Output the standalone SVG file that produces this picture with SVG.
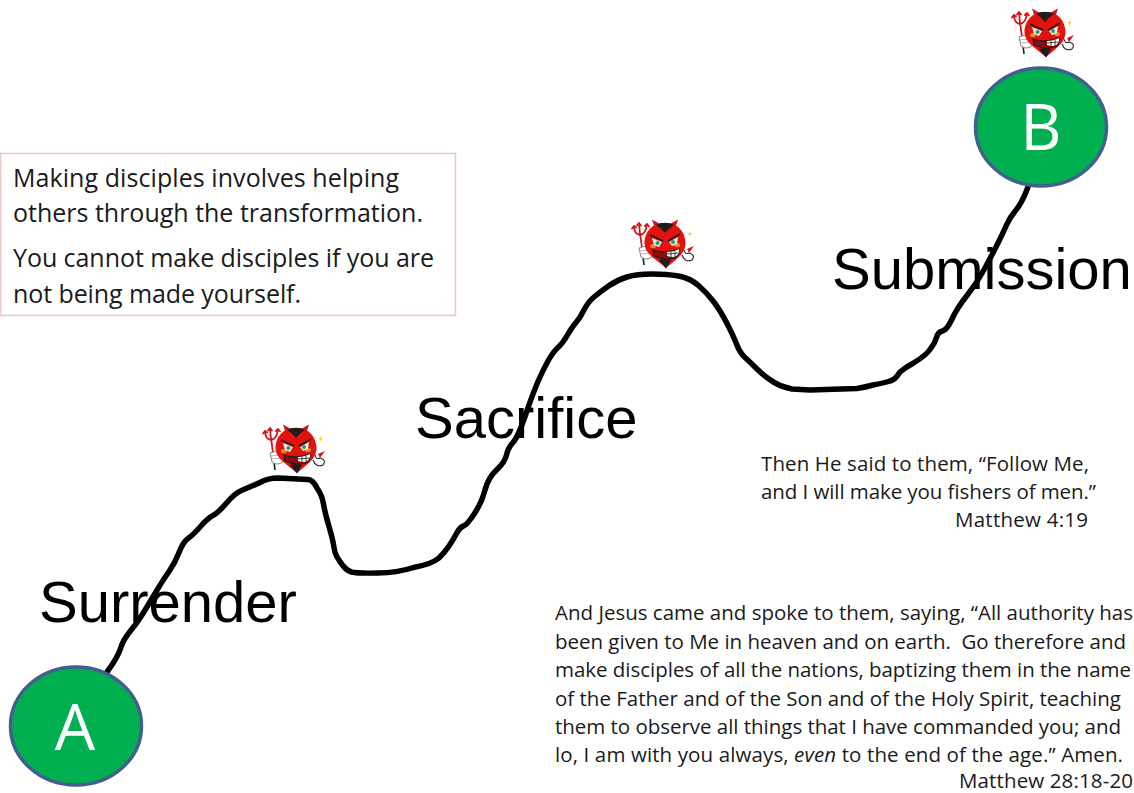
<svg xmlns="http://www.w3.org/2000/svg" width="1134" height="793" viewBox="0 0 1134 793">
<style>
.body{font-family:"Open Sans","Noto Sans",sans-serif;font-size:20.5px;fill:#1a1a1a}
.note{font-family:"Open Sans","Noto Sans",sans-serif;font-size:25px;fill:#1a1a1a}
.stage{font-family:"Liberation Sans",Arial,sans-serif;font-size:58px;fill:#000}
.letter{font-family:"Open Sans","Noto Sans",sans-serif;font-size:64px;fill:#fff;text-anchor:middle}
.stop{fill:#00b050;stroke:#41608f;stroke-width:3.500}
.trail{fill:none;stroke:#000;stroke-width:5.500;stroke-linecap:round;stroke-linejoin:round}
</style>
<defs>
<g id="devil">
<path d="M-22,14 L-21,22" stroke="#222" stroke-width="1.600" fill="none"/>
<path d="M-23,5 L-25,-10 M-31,-17 Q-31,-9 -25,-8 Q-19,-9 -18,-19 M-25,-8 L-26,-20 M-31,-17 l-2,2.500 M-31,-17 l2,1.500 M-26,-20 l-2,2.500 M-26,-20 l2,2.500 M-18,-19 l-2,2 M-18,-19 l2,2.500" stroke="#d3141c" stroke-width="1.800" fill="none" stroke-linecap="round"/>
<path d="M-26,5 Q-20,2 -15,4 L-13,14 Q-19,18 -24,14 Z" fill="#fff" stroke="#777" stroke-width=".9"/>
<path d="M-26,8 L-15,7 M-25,11 L-14,10" stroke="#999" stroke-width=".7"/>
<path d="M-10,-14 L-13,-23.500 L-3,-18 Z M10,-14 L13,-23.500 L3,-18 Z" fill="#d3141c"/>
<path d="M17,12 Q20,20 27,17 Q31,12 24,10 Q20,12 19,7" fill="none" stroke="#222" stroke-width="1.100"/>
<path d="M24,10 L29,3 L22,6 Z" fill="#d3141c"/>
<path d="M0,-20 C12,-21 20.500,-11 20.500,0 C20.500,10 13,15 1,25 C-11,15 -20.500,10 -20.500,0 C-20.500,-11 -12,-21 0,-20 Z" fill="#e3120f"/>
<path d="M-9,-18 Q0,-22.500 9,-18 Q4,-15 0,-10 Q-4,-15 -9,-18 Z M-6,17 Q0,15 6,17 L1,25.500 Z" fill="#1d1d1d"/>
<ellipse cx="-12" cy="3" rx="3" ry="2" fill="#f28a1e"/><ellipse cx="12" cy="2" rx="3" ry="2" fill="#f28a1e"/>
<path d="M-13,-5 L-3,-1 L-6,4 L-11,2 Z M13,-6 L4,-1 L7,3 L12,1 Z" fill="#dff0e2"/>
<circle cx="-7.500" cy="0" r="2" fill="#2e9a6a"/><circle cx="8" cy="-1" r="2" fill="#2e9a6a"/>
<path d="M-15,-8 L-2,-2 M15,-9 L3,-2" stroke="#1d1d1d" stroke-width="1.800"/>
<path d="M-12,7 Q-2,11 14,6 Q15,12 10,15 Q0,18 -11,13 Z" fill="#8c0b0b" stroke="#1d1d1d" stroke-width="1.200"/>
<path d="M2,9 Q9,9 14,6 Q15,12 9,14 Q5,14 2,13 Z" fill="#fff"/>
<path d="M6,9 L6,14 M10,8 L10,14 M2,11 L14,10" stroke="#1d1d1d" stroke-width=".8"/>
<path d="M24,-10 l.7,-2.500 l.7,2.500 l2,.7 l-2,.7 l-.7,2.500 l-.7,-2.500 l-2,-.7 Z M20,-7 l1,2 l-2,0 Z" fill="#f5d53a"/>
</g>
</defs>
<g id="connectors">
<path id="trail" class="trail" d="M107,672 Q118,657 120.500,648.500 Q123,640 130,631.500 Q137,623 142,615 Q147,607 155,593.500 Q163,580 169,571.500 Q175,563 179,552.500 Q183,542 188,538.500 Q193,535 200.500,526.500 Q208,518 213,515.500 Q218,513 226.500,503 Q235,493 242.500,490 Q250,487 260,482.500 Q268,478 278,478 L308,479.500 Q313,480 317,488 Q322,495 323.500,504 Q325,513 329,526.500 Q333,540 334,547.500 Q335,555 340,561.500 Q345,570 351.500,572 Q358,573.500 377.500,573 Q397,573 413.500,567.500 Q432,564 439,558 Q445,552 449,546 Q453,540 456.500,533.500 Q460,527 463.500,526 Q467,525 474.500,513.500 Q482,502 485,490 Q488,478 496.500,470 Q505,462 506.500,455 Q508,448 513,442.500 Q518,437 525.500,415 Q533,393 538,381.500 Q543,370 548,361 Q553,352 558,347.500 Q563,343 567.500,335 Q572,327 576,322.500 Q580,318 584,310 Q588,302 594,297 Q600,292 608.500,286 Q617,280 627,277 Q637,274 652,274 Q667,274 678.500,276 Q690,278 698.500,285.500 Q707,293 713.500,301.500 Q720,310 726.500,322.500 Q733,335 736.500,344 Q740,353 745,357.500 Q750,362 756.500,368.500 Q763,375 770.500,380 Q778,386 792,389 L810,390 L857,388.500 Q866,387 873,385 Q884,383 890,381 Q895,380 900,372 Q906,367 913.500,363 Q927,355 931,348 Q935,343 936.500,337.500 Q938,332 942.500,331 Q947,330 952,319 Q957,308 967,295.500 Q977,283 985,268 Q993,253 998,243 Q1003,233 1006.500,225 Q1010,217 1016,210 Q1022,203 1028,187"/>
</g>
<g id="node-a"><ellipse class="stop" cx="76" cy="726" rx="65.500" ry="59"/><text class="letter" x="75" y="750">A</text></g>
<g id="node-b"><ellipse class="stop" cx="1041" cy="127" rx="65.500" ry="59"/><text class="letter" x="1041" y="150">B</text></g>
<g id="devil-1"><use href="#devil" transform="translate(296,448)"/></g>
<g id="devil-2"><use href="#devil" transform="translate(665,243)"/></g>
<g id="devil-3"><use href="#devil" transform="translate(1045,32)"/></g>
<g id="label-surrender"><text class="stage" x="39" y="622">Surrender</text></g>
<g id="label-sacrifice"><text class="stage" x="415" y="438">Sacrifice</text></g>
<g id="label-submission"><text class="stage" x="832" y="288.500">Submission</text></g>
<g id="note">
<rect x="0.500" y="153.500" width="455" height="162" fill="#fff" stroke="#edc4c4" stroke-width="1.500"/>
<text class="note" x="13" y="187" textLength="386">Making disciples involves helping</text>
<text class="note" x="13" y="222" textLength="410">others through the transformation.</text>
<text class="note" x="13" y="267" textLength="421">You cannot make disciples if you are</text>
<text class="note" x="13" y="303" textLength="288">not being made yourself.</text>
</g>
<g id="verse-1">
<text class="body" x="761" y="471" textLength="328">Then He said to them, “Follow Me,</text>
<text class="body" x="761" y="499" textLength="335">and I will make you fishers of men.”</text>
<text class="body" x="955" y="527" textLength="133">Matthew 4:19</text>
</g>
<g id="verse-2">
<text class="body" x="555" y="620" textLength="578">And Jesus came and spoke to them, saying, “All authority has</text>
<text class="body" x="555" y="649" textLength="571" xml:space="preserve">been given to Me in heaven and on earth.  Go therefore and</text>
<text class="body" x="555" y="677" textLength="576">make disciples of all the nations, baptizing them in the name</text>
<text class="body" x="555" y="706" textLength="566">of the Father and of the Son and of the Holy Spirit, teaching</text>
<text class="body" x="555" y="734" textLength="566">them to observe all things that I have commanded you; and</text>
<text class="body" x="555" y="762" textLength="568">lo, I am with you always, <tspan font-style="italic">even</tspan> to the end of the age.” Amen.</text>
<text class="body" x="959" y="788" textLength="174">Matthew 28:18-20</text>
</g>
</svg>
